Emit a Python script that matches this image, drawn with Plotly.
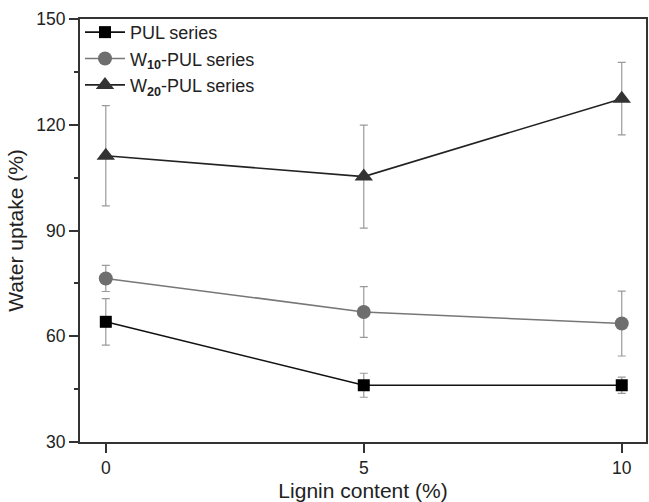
import plotly.graph_objects as go

lignin = [0, 5, 10]
pul = [64.1, 46.1, 46.1]
pul_err = [6.6, 3.4, 2.3]
w10 = [76.4, 66.9, 63.6]
w10_err = [3.7, 7.2, 9.2]
w20 = [111.2, 105.3, 127.4]
w20_err = [14.2, 14.6, 10.3]

names = ["PUL series", "W<sub><b>10</b></sub>-PUL series", "W<sub><b>20</b></sub>-PUL series"]

font = "Arial, Liberation Sans, sans-serif"
fig = go.Figure()

def add(y, err, name, color, linecolor, symbol, size):
    fig.add_trace(go.Scatter(
        x=lignin, y=y, name=name, mode="lines+markers",
        line=dict(color=linecolor, width=1.6),
        marker=dict(symbol=symbol, size=size, color=color),
        error_y=dict(type="data", array=err, visible=True, color="#9a9a9a",
                     thickness=1.2, width=4),
    ))

add(pul, pul_err, names[0], "#000000", "#111111", "square", 12)
add(w10, w10_err, names[1], "#6e6e6e", "#777777", "circle", 14)
add(w20, w20_err, names[2], "#333333", "#222222", "triangle-up", 16)

fig.update_layout(
    width=649, height=502,
    margin=dict(l=80, r=1, t=19, b=59),
    paper_bgcolor="white", plot_bgcolor="white",
    font=dict(family=font, size=17.5, color="#222222"),
    showlegend=True,
    legend=dict(x=0.0, y=1.012, xanchor="left", yanchor="top",
                bgcolor="rgba(0,0,0,0)", font=dict(size=18),
                tracegroupgap=0, itemwidth=40),
)
fig.update_xaxes(
    range=[-0.5, 10.47], tickvals=lignin, ticktext=["0", "5", "10"],
    ticks="outside", ticklen=9, tickwidth=1.5, tickcolor="#333333",
    showline=True, linecolor="#333333", linewidth=2, mirror=True,
    showgrid=False, zeroline=False,
    title=dict(text="Lignin content (%)", standoff=8),
    tickfont=dict(size=17.5),
)
fig.update_yaxes(
    range=[30, 150], tickvals=[30, 60, 90, 120, 150],
    ticks="outside", ticklen=9, tickwidth=1.5, tickcolor="#333333",
    minor=dict(tickvals=[45, 75, 105, 135], ticks="outside", ticklen=4,
               tickwidth=1.5, tickcolor="#333333"),
    showline=True, linecolor="#333333", linewidth=2, mirror=True,
    showgrid=False, zeroline=False,
    title=dict(text="Water uptake (%)", standoff=7),
    tickfont=dict(size=17.5),
)

fig.write_html("out.html")
